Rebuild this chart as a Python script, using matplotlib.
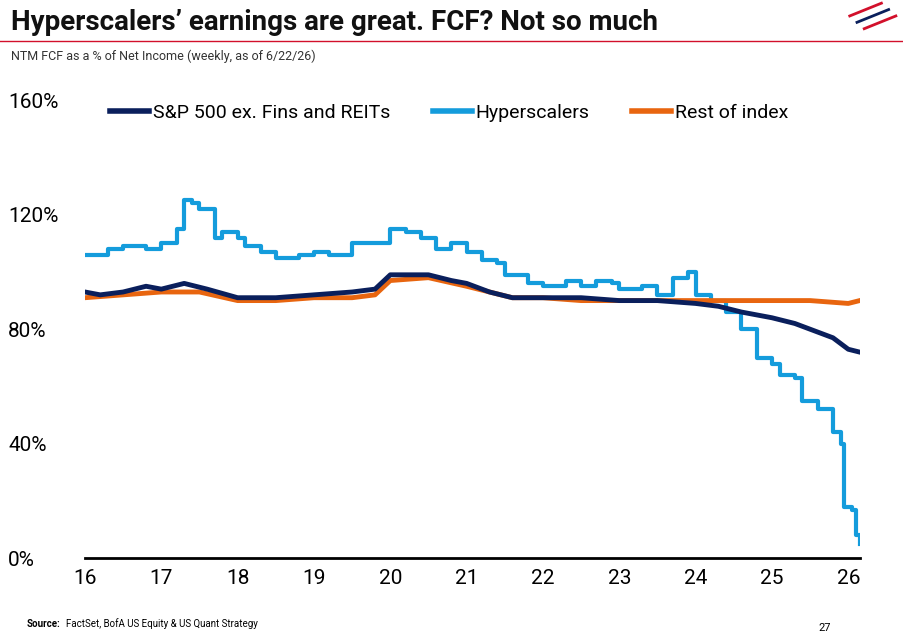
import matplotlib
matplotlib.use("Agg")
import matplotlib.pyplot as plt
from matplotlib.lines import Line2D

plt.rcParams["font.family"] = ["Roboto", "DejaVu Sans"]

hyper_x = [16.0, 16.3, 16.5, 16.8, 17.0, 17.2, 17.3, 17.4, 17.5, 17.7, 17.8, 18.0, 18.1, 18.3, 18.5,
           18.8, 19.0, 19.2, 19.5, 19.8, 20.0, 20.2, 20.4, 20.6, 20.8, 21.0, 21.2, 21.4, 21.5, 21.8,
           22.0, 22.3, 22.5, 22.7, 22.9, 23.0, 23.3, 23.5, 23.7, 23.9, 24.0, 24.2, 24.4, 24.6, 24.8,
           25.0, 25.1, 25.3, 25.4, 25.6, 25.8, 25.9, 25.95, 26.05, 26.1, 26.15]
hyper_y = [106, 108, 109, 108, 110, 115, 125, 124, 122, 112, 114, 112, 109, 107, 105,
           106, 107, 106, 110, 110, 115, 114, 112, 108, 110, 107, 104, 103, 99, 96,
           95, 97, 95, 97, 96, 94, 95, 92, 98, 100, 92, 90, 86, 80, 70,
           68, 64, 63, 55, 52, 44, 40, 18, 17, 8, 5]

spx_x = [16.0, 16.2, 16.5, 16.8, 17.0, 17.3, 17.6, 18.0, 18.5, 19.0, 19.5, 19.8, 20.0, 20.3, 20.5,
         20.8, 21.0, 21.3, 21.6, 22.0, 22.5, 23.0, 23.5, 24.0, 24.3, 24.6, 25.0, 25.3, 25.6, 25.8,
         26.0, 26.15]
spx_y = [93, 92, 93, 95, 94, 96, 94, 91, 91, 92, 93, 94, 99, 99, 99,
         97, 96, 93, 91, 91, 91, 90, 90, 89, 88, 86, 84, 82, 79, 77,
         73, 72]

rest_x = [16.0, 16.5, 17.0, 17.5, 18.0, 18.5, 19.0, 19.5, 19.8, 20.0, 20.5, 21.0, 21.3, 21.6, 22.0,
          22.5, 23.0, 23.5, 24.0, 24.5, 25.0, 25.5, 26.0, 26.15]
rest_y = [91, 92, 93, 93, 90, 90, 91, 91, 92, 97, 98, 95, 93, 91, 91,
          90, 90, 90, 90, 90, 90, 90, 89, 90]

labels = ["S&P 500 ex. Fins and REITs", "Hyperscalers", "Rest of index"]
colors = ["#0a1f5c", "#149cdc", "#e8650f"]
year_ticks = list(range(16, 27))
y_ticks = [0, 40, 80, 120, 160]

fig = plt.figure(figsize=(9.04, 6.38), dpi=100)
ax = fig.add_axes([0.094, 0.125, 0.857, 0.718])

ax.plot(hyper_x, hyper_y, color=colors[1], lw=3, drawstyle="steps-post")
ax.plot(rest_x, rest_y, color=colors[2], lw=3.5)
ax.plot(spx_x, spx_y, color=colors[0], lw=3.5)

ax.set_xlim(16, 26.15)
ax.set_ylim(0, 160)
ax.set_xticks(year_ticks)
ax.set_xticklabels([str(t) for t in year_ticks], fontsize=15)
ax.set_yticks(y_ticks)
ax.set_yticklabels([f"{t}%" for t in y_ticks], fontsize=15)
for s in ["top", "right", "left"]:
    ax.spines[s].set_visible(False)
ax.spines["bottom"].set_linewidth(2)
ax.tick_params(axis="both", length=0, pad=8)
for lbl in ax.get_yticklabels():
    lbl.set_horizontalalignment("left")
    lbl.set_x(-0.085)

handles = [Line2D([0], [0], color=c, lw=4) for c in colors]
ax.legend(handles, labels, loc="upper center", bbox_to_anchor=(0.47, 1.03), ncol=3,
          frameon=False, fontsize=14, handlelength=2.0, columnspacing=2.2, handletextpad=0.2)

fig.text(0.012, 0.965, "Hyperscalers’ earnings are great. FCF? Not so much",
         fontsize=20, fontweight="bold", va="center", color="#111111")
fig.add_artist(Line2D([0.0, 1.0], [0.935, 0.935], color="#d2102b", lw=1.0))
fig.text(0.012, 0.912, "NTM FCF as a % of Net Income (weekly, as of 6/22/26)",
         fontsize=9, va="center", color="#333333")
fig.text(0.03, 0.022, "Source:", fontsize=7, fontweight="bold", va="center")
fig.text(0.073, 0.022, "FactSet, BofA US Equity & US Quant Strategy", fontsize=7, va="center")
fig.text(0.905, 0.015, "27", fontsize=8, va="center")

for i, c in enumerate(["#d2102b", "#0a1f5c", "#d2102b"]):
    fig.add_artist(Line2D([0.94 + i * 0.008, 0.975 + i * 0.008],
                          [0.975 - i * 0.01, 0.995 - i * 0.01], color=c, lw=2))

fig.savefig("out.png", dpi=100)
